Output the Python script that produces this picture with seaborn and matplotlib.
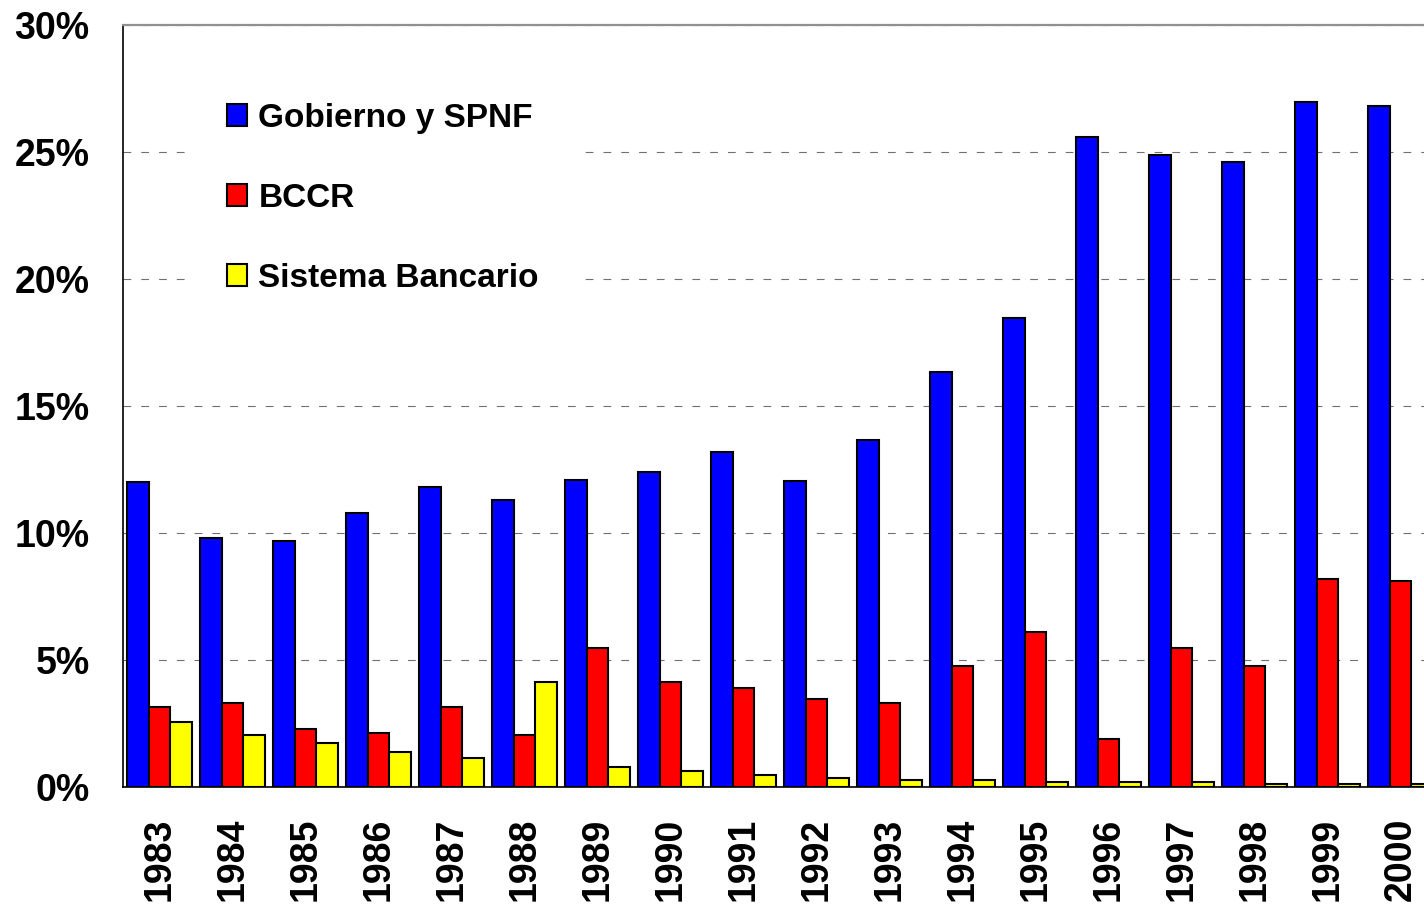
import matplotlib
matplotlib.use("Agg")
import matplotlib.pyplot as plt
import seaborn as sns
import pandas as pd

years = [str(y) for y in range(1983, 2001)]
gobierno = [12.0, 9.8, 9.7, 10.8, 11.8, 11.3, 12.1, 12.4, 13.2, 12.05, 13.65,
            16.35, 18.45, 25.6, 24.9, 24.6, 26.95, 26.8]
bccr = [3.15, 3.3, 2.28, 2.13, 3.15, 2.05, 5.47, 4.13, 3.9, 3.46, 3.3,
        4.76, 6.1, 1.88, 5.47, 4.76, 8.19, 8.1]
bancario = [2.56, 2.05, 1.73, 1.38, 1.14, 4.13, 0.79, 0.63, 0.47, 0.35, 0.28,
            0.28, 0.2, 0.2, 0.2, 0.1, 0.1, 0.1]
series_names = ["Gobierno y SPNF", "BCCR", "Sistema Bancario"]
colors = ["#0000FF", "#FF0000", "#FFFF00"]
yticks = [0, 5, 10, 15, 20, 25, 30]

# long format for seaborn
df = pd.concat([
    pd.DataFrame({"year": years, "value": vals, "serie": name})
    for name, vals in zip(series_names, [gobierno, bccr, bancario])
])

sns.set_style("white")
plt.rcParams['font.family'] = ['Liberation Sans', 'DejaVu Sans']
plt.rcParams['font.weight'] = 'bold'
plt.rcParams['text.color'] = 'black'

fig = plt.figure(figsize=(14.24, 9.05), dpi=100)
ax = fig.add_axes([123 / 1424, 118 / 905, 1314 / 1424, 762 / 905])

sns.barplot(data=df, x="year", y="value", hue="serie", hue_order=series_names,
            palette=colors, width=0.88, edgecolor="black", linewidth=1.5,
            saturation=1, ax=ax, legend=True)

ax.set_xlim(-0.5, 17.5)
ax.set_ylim(0, 30)
ax.set_yticks(yticks)
ax.set_yticklabels([f"{t}%" for t in yticks], fontsize=27, fontweight="bold")
ax.set_xticks([i - 0.5 for i in range(19)], minor=False)
ax.set_xticklabels([])
ax.set_xticks(range(18), minor=True)
ax.set_xticklabels(years, minor=True, rotation=90, fontsize=27, fontweight="bold")
ax.tick_params(axis="x", which="major", length=8, width=1, color="#404040", direction="out")
ax.tick_params(axis="x", which="minor", length=0, pad=22, labelcolor="black")
ax.tick_params(axis="y", length=8, width=1, color="black", pad=16, direction="out",
               labelcolor="black")
ax.set_xlabel("")
ax.set_ylabel("")

ax.yaxis.grid(True, linestyle=(0, (7, 9)), linewidth=0.8, color="#707070")
ax.set_axisbelow(True)

for side in ["left", "bottom"]:
    ax.spines[side].set_color("black")
    ax.spines[side].set_linewidth(1.2)
ax.spines["top"].set_color("#909090")
ax.spines["top"].set_linewidth(1.6)
ax.spines["right"].set_visible(False)

handles, labels = ax.get_legend_handles_labels()
leg = ax.legend(handles, labels, loc="upper left", bbox_to_anchor=(0.051, 0.946),
                borderaxespad=0, frameon=True, framealpha=1, facecolor="white",
                edgecolor="white", handlelength=0.6, handleheight=0.6,
                handletextpad=0.35, labelspacing=1.47, borderpad=1.1,
                prop={"weight": "bold", "size": 24}, labelcolor="black")
for h in leg.legend_handles:
    h.set_edgecolor("black")
    h.set_linewidth(1.5)

fig.savefig("out.png", dpi=100)
